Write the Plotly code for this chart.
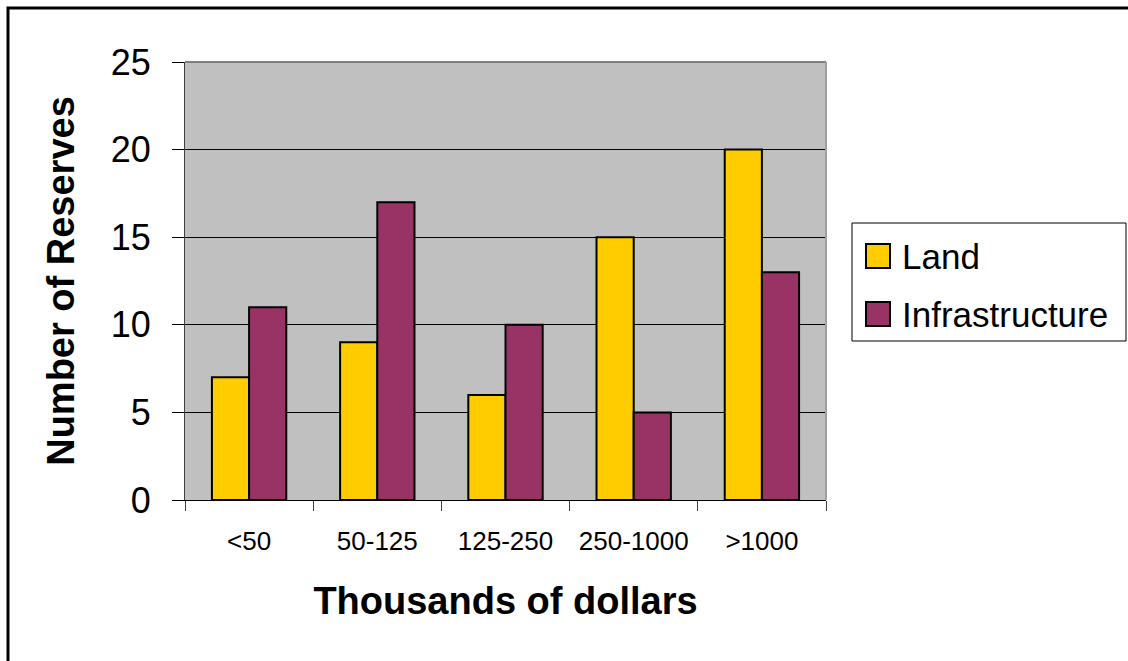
import plotly.graph_objects as go

categories = ["<50", "50-125", "125-250", "250-1000", ">1000"]
land = [7, 9, 6, 15, 20]
infrastructure = [11, 17, 10, 5, 13]
y_ticks = [0, 5, 10, 15, 20, 25]
colors = ["#FFCC00", "#993366"]

W, H = 1128, 661
L, R, T, B = 185, 302, 62, 161
pw, ph = W - L - R, H - T - B

def px(x):
    return (x - L) / pw

def py(y):
    return (H - B - y) / ph

fig = go.Figure()
fig.add_trace(go.Bar(name="Land", x=categories, y=land,
                     marker=dict(color=colors[0], line=dict(color="black", width=2))))
fig.add_trace(go.Bar(name="Infrastructure", x=categories, y=infrastructure,
                     marker=dict(color=colors[1], line=dict(color="black", width=2))))

shapes = [
    dict(type="rect", xref="paper", yref="paper",
         x0=px(8), x1=px(1140), y0=py(8), y1=py(680),
         line=dict(color="black", width=3), fillcolor="rgba(0,0,0,0)", layer="above"),
    dict(type="line", xref="paper", yref="paper", x0=0, x1=1, y0=1, y1=1,
         line=dict(color="#808080", width=2)),
    dict(type="line", xref="paper", yref="paper", x0=1, x1=1, y0=0, y1=1,
         line=dict(color="#A0A0A0", width=2)),
    # legend box
    dict(type="rect", xref="paper", yref="paper",
         x0=px(852), x1=px(1126), y0=py(223), y1=py(341),
         line=dict(color="black", width=1), fillcolor="white"),
]
annotations = []
row_centers = [256, 314]
for tr, col, cy in zip(fig.data, colors, row_centers):
    shapes.append(dict(type="rect", xref="paper", yref="paper",
                       x0=px(866), x1=px(890), y0=py(cy - 12), y1=py(cy + 12),
                       line=dict(color="black", width=2), fillcolor=col))
    annotations.append(dict(text=tr.name, xref="paper", yref="paper",
                            x=px(900), y=py(cy), xanchor="left", yanchor="middle",
                            showarrow=False, font=dict(size=35, color="black")))

fig.update_layout(
    width=W, height=H,
    margin=dict(l=L, r=R, t=T, b=B),
    paper_bgcolor="white", plot_bgcolor="#C0C0C0",
    barmode="group", bargap=0.42, bargroupgap=0,
    font=dict(family="Liberation Sans, Arial", color="black"),
    showlegend=False,
    shapes=shapes,
    annotations=annotations,
)
fig.update_xaxes(
    type="category", tickson="boundaries", ticks="outside", ticklen=10,
    tickcolor="#404040", tickwidth=1,
    showline=True, linecolor="black", linewidth=1,
    tickfont=dict(size=26), ticklabelstandoff=18,
    title=dict(text="<b>Thousands of dollars</b>", font=dict(size=38), standoff=32),
    showgrid=False,
)
fig.update_yaxes(
    range=[0, 25], tickvals=y_ticks, ticks="outside", ticklen=12,
    tickcolor="black", tickwidth=1,
    showline=True, linecolor="#404040", linewidth=1,
    tickfont=dict(size=36), ticklabelstandoff=14,
    showgrid=True, gridcolor="black", gridwidth=1,
    title=dict(text="<b>Number of Reserves</b>", font=dict(size=38), standoff=24),
    zeroline=False,
)

fig.write_html("out.html")
